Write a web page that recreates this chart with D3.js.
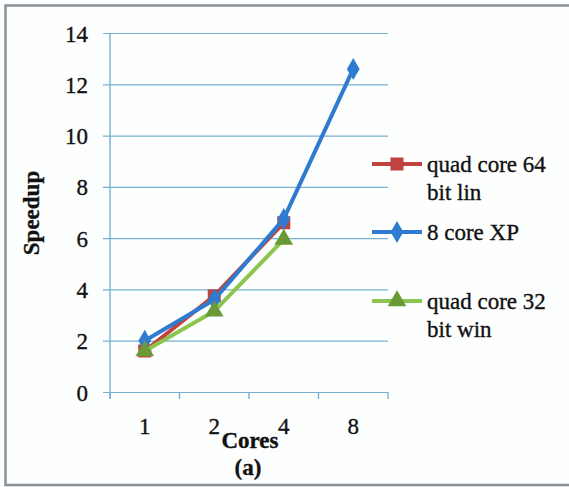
<!DOCTYPE html>
<html>
<head>
<meta charset="utf-8">
<script src="https://cdn.jsdelivr.net/npm/d3@7"></script>
<style>
  html, body { margin: 0; padding: 0; background: #ffffff; }
  svg { display: block; }
  svg text { font-family: "Liberation Serif", "Times New Roman", Times, serif !important; fill: #111; stroke: #111; stroke-width: 0.35px; }
</style>
</head>
<body>
<svg id="chart" width="569" height="487"></svg>
<script>
// Speedup measured per core count
const cores = ["1", "2", "4", "8"];
const yTicks = [0, 2, 4, 6, 8, 10, 12, 14];

const quad64Lin = [1.6, 3.75, 6.6];
const eightXP   = [2.0, 3.6, 6.75, 12.6];
const quad32Win = [1.6, 3.15, 5.95];

const seriesNames = ["quad core 64 bit lin", "8 core XP", "quad core 32 bit win"];

const series = [
  { name: seriesNames[0], values: quad64Lin, line: "#c0433f", fill: "#c0433f", symbol: d3.symbolSquare,   size: 170, legendLines: ["quad core 64", "bit lin"], ly: 164 },
  { name: seriesNames[1], values: eightXP,   line: "#2e7bcf", fill: "#2e7bcf", symbol: d3.symbolDiamond,  size: 140, legendLines: ["8 core XP"], ly: 232 },
  { name: seriesNames[2], values: quad32Win, line: "#8cc44e", fill: "#6a9a36", symbol: d3.symbolTriangle, size: 150, legendLines: ["quad core 32", "bit win"], ly: 301 }
];

const serif = '"Liberation Serif", "Times New Roman", Times, serif';
const svg = d3.select("#chart");

// frame
svg.append("rect").attr("x", 0).attr("y", 0).attr("width", 569).attr("height", 487).attr("fill", "#fdfefe");
svg.append("path")
  .attr("d", "M572,5.5 H5.5 V485 H572")
  .attr("fill", "none").attr("stroke", "#8a9097").attr("stroke-width", 2.5);

const x = d3.scaleBand().domain(cores).range([110, 388]).padding(0);
const y = d3.scaleLinear().domain([0, 14]).range([392, 33]);

const gridColor = "#78b0cf";

// horizontal gridlines with left tick stubs
const yAxis = d3.axisLeft(y).tickValues(yTicks).tickSize(-(388 - 110)).tickSizeOuter(0).tickPadding(15);
const gy = svg.append("g").attr("transform", "translate(110,0)").call(yAxis)
  .attr("font-family", null).attr("font-size", null);
gy.select(".domain").remove();
gy.selectAll(".tick line").attr("stroke", gridColor).attr("stroke-width", 1.2).attr("x1", -7);
gy.selectAll(".tick text")
  .style("font-family", serif).style("font-size", "23px")
  .attr("fill", "#111").attr("dy", null).attr("y", 8).attr("x", -22);

// vertical axis line
svg.append("line").attr("x1", 110).attr("x2", 110).attr("y1", 33).attr("y2", 398)
  .attr("stroke", gridColor).attr("stroke-width", 1.4);

// category axis: ticks on band edges, labels centred in bands
const xAxis = d3.axisBottom(x).tickSize(0).tickPadding(0);
const gx = svg.append("g").attr("transform", "translate(0,392)").call(xAxis)
  .attr("font-family", null).attr("font-size", null);
gx.select(".domain").remove();
gx.selectAll(".tick text")
  .style("font-family", serif).style("font-size", "23px")
  .attr("fill", "#111").attr("dy", null).attr("y", 42);
const edges = cores.map(c => x(c)).concat([x(cores[cores.length - 1]) + x.bandwidth()]);
svg.append("g").selectAll("line").data(edges).join("line")
  .attr("x1", d => d).attr("x2", d => d).attr("y1", 392).attr("y2", 399)
  .attr("stroke", gridColor).attr("stroke-width", 1.4);

// axis titles
const title = (t, tr) => svg.append("text").attr("transform", tr).attr("text-anchor", "middle")
  .style("font-family", serif).style("font-size", "23px").style("font-weight", "bold").text(t);
title("Cores", "translate(250,448)");
title("(a)", "translate(248,475)");
title("Speedup", "translate(39,213) rotate(-90)");

const cx = i => x(cores[i]) + x.bandwidth() / 2;
const line = d3.line().x((d, i) => cx(i)).y(d => y(d));

const gS = svg.append("g");
series.forEach(s => {
  gS.append("path").datum(s.values).attr("d", line)
    .attr("fill", "none").attr("stroke", s.line).attr("stroke-width", 4).attr("stroke-linejoin", "round");
  gS.append("g").selectAll("path").data(s.values).join("path")
    .attr("d", d3.symbol().type(s.symbol).size(s.size))
    .attr("transform", (d, i) => `translate(${cx(i)},${y(d)})`)
    .attr("fill", s.fill);
});

// legend
const gL = svg.append("g");
series.forEach(s => {
  gL.append("line").attr("x1", 372).attr("x2", 422).attr("y1", s.ly).attr("y2", s.ly)
    .attr("stroke", s.line).attr("stroke-width", 4);
  gL.append("path").attr("d", d3.symbol().type(s.symbol).size(s.size))
    .attr("transform", `translate(397,${s.ly})`).attr("fill", s.fill);
  s.legendLines.forEach((t, k) => {
    gL.append("text").attr("x", 427).attr("y", s.ly + 8 + k * 28)
      .style("font-family", serif).style("font-size", "23px").text(t);
  });
});
</script>
</body>
</html>
